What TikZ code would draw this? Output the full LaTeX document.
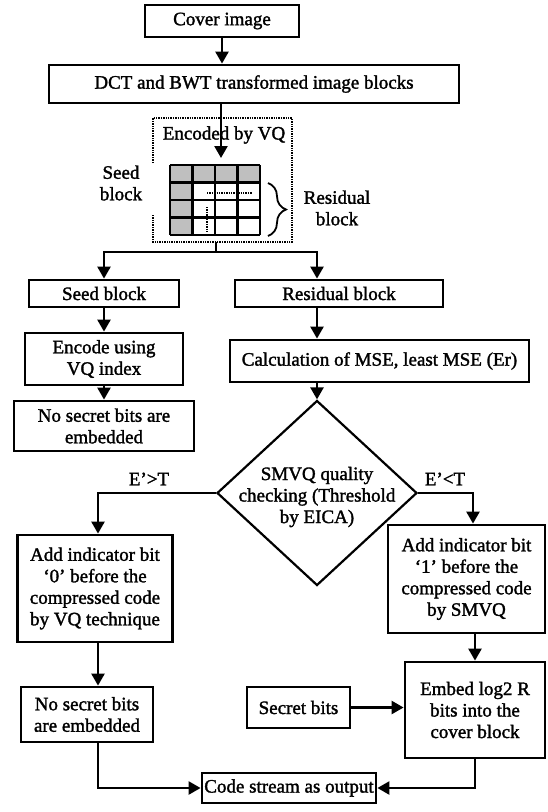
\documentclass[tikz,border=0pt]{standalone}
\usepackage{fontspec}
\setmainfont{Liberation Serif}[FakeBold=1.6]
\usetikzlibrary{arrows.meta,shapes.geometric,decorations.pathreplacing}

\begin{document}
\begin{tikzpicture}[x=1pt,y=-1pt,
    font=\fontsize{19}{21.5}\selectfont,
    box/.style ={draw, line width=2.8pt, align=center, inner sep=0pt},
    decision/.style ={diamond, draw, line width=2.2pt, inner sep=0pt,
      minimum width=200pt, minimum height=185pt},
    arr/.style ={line width=2.4pt, -{Triangle[length=12pt,width=13pt]}},
    link/.style ={line width=2.4pt},
    dots/.style ={line width=2.2pt, dash pattern=on 1.4pt off 1pt}]
   \useasboundingbox (0,0) rectangle (547,812);
   % columns of the connectors
   \coordinate (lcol) at (98,0);
   \coordinate (rcol) at (317,0);
   \coordinate (rrcol) at (473,0);
   \coordinate (gridtop) at (221,165);
   \coordinate (vqbot) at (216,242);
   \coordinate (split) at (216,252);
   % boxes
   \node[box, minimum width=154pt, minimum height=32pt] (cover) at (222,21) {Cover image};
   \node[box, minimum width=410pt, minimum height=38pt] (dct) at (254,84) {DCT and BWT transformed image blocks};
   \node (vqlbl) at (224,135) {Encoded by VQ};
   \node[align=center] (seedlbl) at (121,183) {Seed\\block};
   \node[align=center] (residlbl) at (337,208) {Residual\\block};
   \node[box, minimum width=150pt, minimum height=27pt] (seed) at (104,293.5) {Seed block};
   \node[box, minimum width=208pt, minimum height=27pt] (resid) at (339,293.5) {Residual block};
   \node[box, minimum width=158pt, minimum height=52pt] (enc) at (104,359) {Encode using\\VQ index};
   \node[box, minimum width=180pt, minimum height=50pt] (nsb1) at (104,426) {No secret bits are\\embedded};
   \node[box, minimum width=299pt, minimum height=42pt] (calc) at (379.5,361) {Calculation of MSE, least MSE (Er)};
   \node[decision] (chk) at (317,493) {};
   \node[align=center] (chklbl) at (317,497) {SMVQ quality\\checking (Threshold\\by EICA)};
   \node (gt) at (149,479) {E'>T};
   \node (lt) at (445,479) {E'<T};
   \node[box, minimum width=155pt, minimum height=107pt] (lind) at (95,588.5) {Add indicator bit\\`0' before the\\compressed code\\by VQ technique};
   \node[box, minimum width=157pt, minimum height=108pt] (rind) at (466.5,579) {Add indicator bit\\`1' before the\\compressed code\\by SMVQ};
   \node[box, minimum width=132pt, minimum height=55pt] (nsb2) at (87,714.5) {No secret bits\\are embedded};
   \node[box, minimum width=103pt, minimum height=41pt] (secret) at (298.5,707.5) {Secret bits};
   \node[box, minimum width=140pt, minimum height=96pt] (embed) at (475,710) {Embed log2 R\\bits into the\\cover block};
   \node[box, minimum width=174pt, minimum height=30pt] (code) at (289,788) {Code stream as output};
   % block picture
   \fill[gray!50] (170,165) rectangle (260,182.5);
   \fill[gray!50] (170,182.5) rectangle (192.5,235);
   \foreach \i in {0,...,4} {
     \draw[line width=2.4pt] ({170+22.5*\i},165) -- ({170+22.5*\i},235);
     \draw[line width=2.4pt] (170,{165+17.5*\i}) -- (260,{165+17.5*\i});
   }
   \draw[dots] (207,193) -- (252,193);
   \draw[dots] (207,207) -- (207,232);
   \draw[dots] (153,163) -- (153,118) -- (292,118) -- (292,242) -- (153,242) -- (153,215);
   \draw[line width=1.8pt, decorate, decoration={brace, amplitude=18pt}] (268,183) -- (268,236);
   % connectors
   \draw[arr] (cover.south) -- (dct.north -| cover.south);
   \draw[arr, shorten >=7pt] (dct.south -| gridtop) -- (gridtop);
   \draw[link] (vqbot) -- (split);
   \draw[arr] (split) -| (seed.north);
   \draw[arr] (split) -| (resid.north -| rcol);
   \draw[arr] (seed) -- (enc);
   \draw[arr] (enc) -- (nsb1);
   \draw[arr] (resid.south -| rcol) -- (calc.north -| rcol);
   \draw[arr] (calc.south -| rcol) -- (chk.north);
   \draw[arr] (chk.west) -| (lind.north -| lcol);
   \draw[arr] (chk.east) -| (rind.north -| rrcol);
   \draw[arr] (lind.south -| lcol) -- (nsb2.north -| lcol);
   \draw[arr] (rind.south -| embed) -- (embed);
   \draw[arr] (secret.east) -- (secret.east -| embed.west);
   \draw[arr] (nsb2.south -| lcol) |- (code.west);
   \draw[arr] (embed.south) |- (code.east);
\end{tikzpicture}
\end{document}
